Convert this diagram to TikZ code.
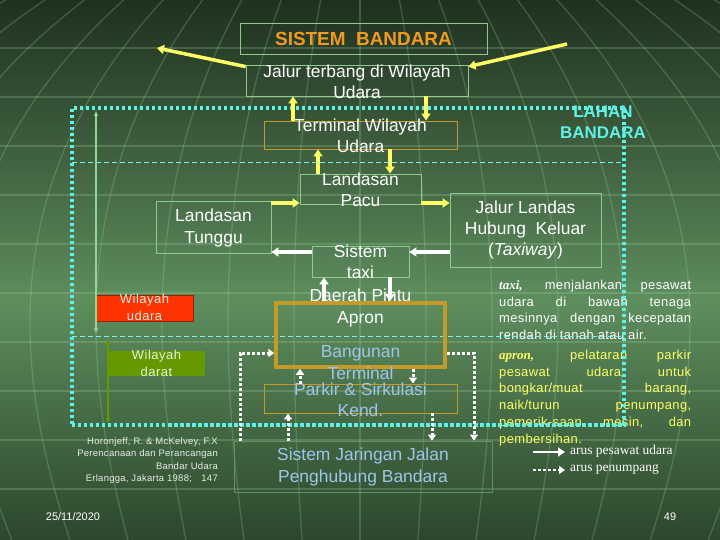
\documentclass[tikz,border=0pt]{standalone}
\usepackage{fontspec}
\setmainfont{Liberation Sans}
\newfontfamily\timesfont{Liberation Serif}
\usepackage{tikz}
\usetikzlibrary{arrows.meta}
\definecolor{slidetop}{HTML}{1F301F}
\definecolor{slidemid}{HTML}{5E8E5E}
\definecolor{slidebot}{HTML}{2C462C}
\definecolor{gridgreen}{HTML}{A8D8A8}
\definecolor{boxgreen}{HTML}{8FCB8F}
\definecolor{boxgold}{HTML}{C49A2A}
\definecolor{titleorange}{HTML}{F09A1E}
\definecolor{flowyellow}{HTML}{FFFF66}
\definecolor{lahancyan}{HTML}{5FF0E6}
\definecolor{roadblue}{HTML}{9CC6EA}
\definecolor{udarared}{HTML}{FF3300}
\definecolor{daratgreen}{HTML}{669900}
\definecolor{notewhite}{HTML}{E6EEE6}
\definecolor{axisgreen}{HTML}{90D890}

\begin{document}
\begin{tikzpicture}[x=1bp, y=-1bp,
    gbox/.style={draw=boxgreen, line width=0.8bp, inner sep=0pt},
    obox/.style={draw=boxgold, line width=0.9bp, inner sep=0pt},
    apronbox/.style={draw=boxgold, line width=3.5bp, inner sep=0pt},
    lbl/.style={text=white, align=center, inner sep=0pt,
                font=\fontsize{17.5}{21.5}\selectfont},
    bluelbl/.style={lbl, text=roadblue},
    zonelbl/.style={text=notewhite, align=center, inner sep=0pt,
                    font=\fontsize{13}{16.5}\selectfont\addfontfeatures{LetterSpace=4}},
    notetxt/.style={anchor=north west, inner sep=0pt, align=left,
                    font=\fontsize{13}{17}\selectfont\addfontfeatures{LetterSpace=3}},
    airflow/.style={draw=flowyellow, line width=3.5bp,
                    -{Triangle[length=7bp, width=9bp]}},
    taxiflow/.style={draw=white, line width=3.5bp,
                     -{Triangle[length=7bp, width=9bp]}},
    paxflow/.style={draw=white, line width=3bp, dash pattern=on 3bp off 2bp,
                    -{Triangle[length=6bp, width=8bp]}},
    lahan/.style={draw=lahancyan, line width=3.5bp,
                  dash pattern=on 3.5bp off 2.5bp},
    zoneline/.style={draw=lahancyan!85!white, line width=0.9bp,
                     dash pattern=on 5bp off 3bp},
    gridline/.style={draw=gridgreen, line width=1.3bp, opacity=0.24}
  ]
  \useasboundingbox (0,0) rectangle (720,540);
  % Slide background
  \shade[top color=slidetop, bottom color=slidemid] (0,0) rectangle (720,301);
  \shade[top color=slidemid, bottom color=slidebot] (0,300) rectangle (720,540);
  \begin{scope}
    \clip (0,0) rectangle (720,540);
    \foreach \y in {48,97,...,490}
      \draw[gridline] (0,\y) -- (720,\y);
    \foreach \k in {-10,...,10}
      \draw[gridline] (360+\k*22,-80) .. controls (360+\k*80,150) and (360+\k*70,400) .. (360+\k*52,620);
  \end{scope}

  % Notes on the right
  \node[notetxt, text=white] (taxinote) at (499,279.5)
    {\makebox[192bp][s]{{\timesfont\bfseries\itshape taxi,} menjalankan pesawat}\\
     \makebox[192bp][s]{udara di bawah tenaga}\\
     \makebox[192bp][s]{mesinnya dengan kecepatan}\\
     rendah di tanah atau air.};
  \node[notetxt, text=flowyellow] (apronnote) at (499,349.5)
    {\makebox[192bp][s]{{\timesfont\bfseries\itshape apron,} pelataran parkir}\\
     \makebox[192bp][s]{pesawat udara untuk}\\
     \makebox[192bp][s]{bongkar/muat barang,}\\
     \makebox[192bp][s]{naik/turun penumpang,}\\
     \makebox[192bp][s]{pemerik-saan mesin, dan}\\
     pembersihan.};

  % Zone boundaries
  \coordinate (zoneA1) at (72,162);
  \coordinate (zoneA2) at (624,162);
  \coordinate (zoneB1) at (72,336);
  \coordinate (zoneB2) at (624,336);
  \draw[zoneline] (zoneA1) -- (zoneA2);
  \draw[zoneline] (zoneB1) -- (zoneB2);

  % Boxes
  \node[gbox, minimum width=247bp, minimum height=31bp] (judul) at (363.5,38.5) {};
  \node[gbox, minimum width=222bp, minimum height=31bp] (jalur) at (357,80.5) {};
  \node[obox, minimum width=193bp, minimum height=28bp] (term) at (360.5,135) {};
  \node[gbox, minimum width=121bp, minimum height=30bp] (pacu) at (360.5,189) {};
  \node[gbox, minimum width=115bp, minimum height=52bp] (tunggu) at (213.5,227) {};
  \node[gbox, minimum width=97bp, minimum height=31bp] (taxi) at (360.5,261.5) {};
  \node[gbox, minimum width=151bp, minimum height=74bp] (hubung) at (525.5,230) {};
  \node[apronbox, minimum width=169bp, minimum height=64bp] (apron) at (360.5,335) {};
  \node[obox, minimum width=193bp, minimum height=29bp] (parkir) at (360.5,398.5) {};
  \node[draw=boxgreen!70!black, line width=0.8bp, inner sep=0pt,
        minimum width=258bp, minimum height=51bp] (jaringan) at (363,466.5) {};
  \node[fill=udarared, draw=udarared!60!black, line width=0.8bp, inner sep=0pt,
        minimum width=97bp, minimum height=26bp] (udara) at (144.5,308) {};
  \node[fill=daratgreen, inner sep=0pt,
        minimum width=97bp, minimum height=25bp] (darat) at (156.5,363.5) {};

  % Box texts
  \node[text=titleorange, inner sep=0pt, font=\bfseries\fontsize{19}{22}\selectfont]
    (judultxt) at (judul) {SISTEM~~BANDARA};
  \node[lbl] (jalurtxt) at (357,81.5) {Jalur terbang di Wilayah\\Udara};
  \node[lbl] (termtxt) at (360.5,136) {Terminal Wilayah\\Udara};
  \node[lbl] (pacutxt) at (360.5,190) {Landasan\\Pacu};
  \node[lbl] (tunggutxt) at (213.5,228) {Landasan\\Tunggu};
  \node[lbl] (taxitxt) at (360.5,262) {Sistem\\taxi};
  \node[lbl] (hubungtxt) at (525.5,230)
    {Jalur Landas\\Hubung~ Keluar\\(\textit{Taxiway})};
  \node[lbl] (daerahtxt) at (360.5,308) {Daerah Pintu\\Apron};
  \node[bluelbl] (gedungtxt) at (360.5,362.5) {Bangunan\\Terminal};
  \node[bluelbl] (parkirtxt) at (360.5,399.5) {Parkir \& Sirkulasi\\Kend.};
  \node[bluelbl] (jaringantxt) at (363,467) {Sistem Jaringan Jalan\\Penghubung Bandara};
  \node[zonelbl] (udaratxt) at (144.5,307.5) {Wilayah\\udara};
  \node[zonelbl] (darattxt) at (156.5,363.5) {Wilayah\\darat};
  \node[text=lahancyan, align=center, inner sep=0pt,
        font=\bfseries\fontsize{17}{21}\selectfont] (lahantxt) at (603,122)
    {LAHAN\\BANDARA};

  % Airport land frame
  \node[inner sep=0pt, minimum width=552bp, minimum height=317bp, lahan]
    (lahanframe) at (348,266.5) {};

  % Air side / land side extents
  \coordinate (udaraTop) at (96,110);
  \coordinate (udaraBot) at (96,334);
  \coordinate (daratTop) at (108,338);
  \coordinate (daratBot) at (108,424);
  \draw[axisgreen, line width=1.2bp, {Latex[length=6bp]}-{Latex[length=6bp]}]
    (udaraTop) -- (udaraBot);
  \draw[daratgreen, line width=1.5bp, {Latex[length=6bp]}-{Latex[length=6bp]}]
    (daratTop) -- (daratBot);

  % Aircraft flow
  \coordinate (skyL) at (157,48);
  \coordinate (skyR) at (567,44);
  \draw[airflow] ([yshift=-2bp]jalur.north west) -- (skyL);
  \draw[airflow] (skyR) -- ([yshift=-2bp]jalur.north east);
  \draw[airflow] ([xshift=-67.5bp]term.north) -- ([xshift=-67.5bp]term.north |- jalur.south);
  \draw[airflow] ([xshift=65.5bp]term.north |- jalur.south) -- ([xshift=65.5bp]term.north);
  \draw[airflow] ([xshift=-42.5bp]pacu.north) -- ([xshift=-42.5bp]pacu.north |- term.south);
  \draw[airflow] ([xshift=29.5bp]pacu.north |- term.south) -- ([xshift=29.5bp]pacu.north);
  \draw[airflow] ([yshift=24bp]tunggu.east) -- ([yshift=24bp]tunggu.east -| pacu.west);
  \draw[airflow] ([yshift=-14bp]pacu.east) -- ([yshift=-14bp]pacu.east -| hubung.west);
  \draw[taxiflow] ([yshift=-22bp]hubung.west) -- ([yshift=-22bp]hubung.west -| taxi.east);
  \draw[taxiflow] ([yshift=9.5bp]taxi.west) -- ([yshift=9.5bp]taxi.west -| tunggu.east);
  \draw[taxiflow] ([xshift=-36.5bp]taxi.south |- apron.north) -- ([xshift=-36.5bp]taxi.south);
  \draw[taxiflow] ([xshift=29.5bp]taxi.south) -- ([xshift=29.5bp]taxi.south |- apron.north);

  % Passenger flow
  \draw[paxflow] ([xshift=-123bp]jaringan.north) |- ([yshift=-18bp]apron.west);
  \draw[paxflow] ([yshift=-18bp]apron.east) -| ([xshift=111bp]jaringan.north);
  \draw[paxflow] ([xshift=-60.5bp]parkir.north) -- ([xshift=-60.5bp]parkir.north |- apron.south);
  \draw[paxflow] ([xshift=52.5bp]parkir.north |- apron.south) -- ([xshift=52.5bp]parkir.north);
  \draw[paxflow] ([xshift=-75bp]jaringan.north) -- ([xshift=-75bp]jaringan.north |- parkir.south);
  \draw[paxflow] ([xshift=69bp]jaringan.north |- parkir.south) -- ([xshift=69bp]jaringan.north);

  % Legend
  \coordinate (legA1) at (533,452);
  \coordinate (legA2) at (565,452);
  \coordinate (legB1) at (533,470);
  \coordinate (legB2) at (565,470);
  \draw[taxiflow, line width=2.5bp] (legA1) -- (legA2);
  \draw[paxflow, line width=2.5bp] (legB1) -- (legB2);
  \node[anchor=west, inner sep=0pt, text=white, font=\timesfont\fontsize{13.5}{16}\selectfont]
    (legtxtA) at (570,451) {arus pesawat udara};
  \node[anchor=west, inner sep=0pt, text=white, font=\timesfont\fontsize{13.5}{16}\selectfont]
    (legtxtB) at (570,469) {arus penumpang};

  % Source, date and page
  \node[anchor=north east, inner sep=0pt, align=right, text=notewhite,
        font=\fontsize{9.5}{12.3}\selectfont\addfontfeatures{LetterSpace=3}] (sumber) at (218,437.5)
    {Horonjeff, R. \& McKelvey, F.X\\Perencanaan dan Perancangan\\Bandar Udara\\
     Erlangga, Jakarta 1988;\quad 147};
  \node[text=white, inner sep=0pt, font=\fontsize{11}{13}\selectfont]
    (tanggal) at (73,517) {25/11/2020};
  \node[text=white, inner sep=0pt, font=\fontsize{11}{13}\selectfont]
    (halaman) at (670,517) {49};
\end{tikzpicture}
\end{document}
